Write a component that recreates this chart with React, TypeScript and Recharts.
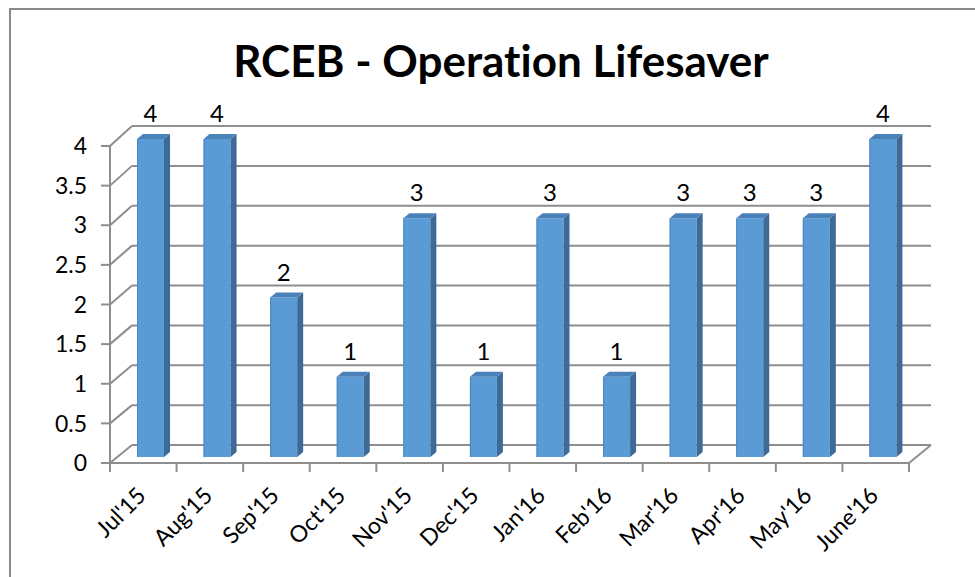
import { Bar, BarChart, CartesianGrid, LabelList, XAxis, YAxis } from "recharts";

const months = ["Jul'15", "Aug'15", "Sep'15", "Oct'15", "Nov'15", "Dec'15", "Jan'16", "Feb'16", "Mar'16", "Apr'16", "May'16", "June'16"];
const counts = [4, 4, 2, 1, 3, 1, 3, 1, 3, 3, 3, 4];
const yTicks = [0, 0.5, 1, 1.5, 2, 2.5, 3, 3.5, 4];
const title = "RCEB - Operation Lifesaver";

const data = months.map((month, i) => ({ month, count: counts[i] }));

// layout of the front plane
const W = 975;
const H = 577;
const MARGIN = { top: 146, right: 66, bottom: 14, left: 10 };
const Y_AXIS_W = 100;
const X_AXIS_H = 100;
const PLOT_LEFT = MARGIN.left + Y_AXIS_W;
const PLOT_W = W - PLOT_LEFT - MARGIN.right;
const PLOT_BOTTOM = H - MARGIN.bottom - X_AXIS_H;
const PLOT_H = PLOT_BOTTOM - MARGIN.top;
const BAND = PLOT_W / months.length;

// depth of the back wall
const DEPTH_X = 22;
const DEPTH_Y_BOTTOM = 18;
const DEPTH_Y_TOP = 20;

// bar depth
const SHIFT_X = 7;
const SIDE_X = 6;
const SIDE_Y = 5;

const FONT = "Lato, 'Open Sans', sans-serif";
const LINE = "#8e8e8e";
const FRONT = "#5b9bd5";
const SIDE = "#3d6a97";
const TOP = "#4a81b9";
const TEXT_STYLE = { fontVariantLigatures: "none" as const };

function GridLine(p: any) {
  const { x1, y1, x2 } = p;
  const t = (PLOT_BOTTOM - y1) / PLOT_H;
  const dy = DEPTH_Y_BOTTOM + (DEPTH_Y_TOP - DEPTH_Y_BOTTOM) * t;
  const isFloor = Math.abs(y1 - PLOT_BOTTOM) < 1;
  return (
    <g key={p.key}>
      <line x1={x1 + DEPTH_X} y1={y1 - dy} x2={x2 + DEPTH_X} y2={y1 - dy} stroke={LINE} strokeWidth={2} />
      <line x1={x1} y1={y1} x2={x1 + DEPTH_X} y2={y1 - dy} stroke={LINE} strokeWidth={2} />
      {isFloor && <line x1={x2} y1={y1} x2={x2 + DEPTH_X} y2={y1 - dy} stroke={LINE} strokeWidth={2} />}
    </g>
  );
}

function Bar3D(props: any) {
  const { x, y, width, height } = props;
  const left = x + SHIFT_X;
  const right = left + width;
  const top = y - 7;
  const bottom = y + height - 6;
  return (
    <g>
      <rect x={left} y={top} width={width} height={bottom - top} fill={FRONT} />
      <line x1={left + 0.5} y1={top} x2={left + 0.5} y2={bottom} stroke="#4a86bf" strokeWidth={1} />
      <polygon points={`${right},${top} ${right + SIDE_X},${top - SIDE_Y} ${right + SIDE_X},${bottom - SIDE_Y} ${right},${bottom}`} fill={SIDE} />
      <polygon points={`${left},${top} ${left + SIDE_X},${top - SIDE_Y} ${right + SIDE_X},${top - SIDE_Y} ${right},${top}`} fill={TOP} />
    </g>
  );
}

function ValueLabel(p: any) {
  const { x, y, width, value } = p;
  return (
    <text x={x + SHIFT_X + width / 2} y={y - 7 - 17} textAnchor="middle" fontSize={24} fontFamily={FONT} fill="#000">
      {value}
    </text>
  );
}

function MonthTick(p: any) {
  const { x, y, payload, index } = p;
  const half = BAND / 2;
  const tx = x + 4;
  const ty = y + 25;
  return (
    <g>
      <line x1={x - half} y1={y - 9} x2={x - half} y2={y} stroke={LINE} strokeWidth={2} />
      {index === months.length - 1 && <line x1={x + half} y1={y - 9} x2={x + half} y2={y} stroke={LINE} strokeWidth={2} />}
      <text x={tx} y={ty} transform={`rotate(-45, ${tx}, ${ty})`} textAnchor="end" fontSize={23} fontFamily={FONT} fill="#000">
        {payload.value}
      </text>
    </g>
  );
}

export default function App() {
  return (
    <div style={{ position: "absolute", left: 0, top: 0, width: W, height: H, background: "#fff", overflow: "hidden" }}>
      <div style={{ position: "absolute", left: 9, top: 8, width: 1100, height: 800, borderLeft: `2px solid #8a8a8a`, borderTop: `2px solid #8a8a8a` }} />
      <svg style={{ position: "absolute", left: 0, top: 0 }} width={W} height={100}>
        <text x={501} y={77} textAnchor="middle" fontSize={44} fontWeight="bold" fontFamily={FONT} fill="#000" style={TEXT_STYLE}>
          {title}
        </text>
      </svg>
      <div style={{ position: "absolute", left: 0, top: 0 }}>
        <BarChart width={W} height={H} data={data} margin={MARGIN} barSize={27}>
          <CartesianGrid vertical={false} horizontal={GridLine} />
          <XAxis
            dataKey="month"
            height={X_AXIS_H}
            interval={0}
            tickSize={9}
            tickMargin={0}
            tickLine={false}
            axisLine={{ stroke: LINE, strokeWidth: 2 }}
            tick={MonthTick}
          />
          <YAxis
            width={Y_AXIS_W}
            domain={[0, 4]}
            ticks={yTicks}
            interval={0}
            tickSize={9}
            tickMargin={14}
            axisLine={{ stroke: LINE, strokeWidth: 2 }}
            tickLine={{ stroke: LINE, strokeWidth: 2 }}
            tick={{ fill: "#000", fontSize: 23, fontFamily: FONT }}
          />
          <Bar dataKey="count" shape={Bar3D} isAnimationActive={false}>
            <LabelList dataKey="count" content={ValueLabel} />
          </Bar>
        </BarChart>
      </div>
    </div>
  );
}
